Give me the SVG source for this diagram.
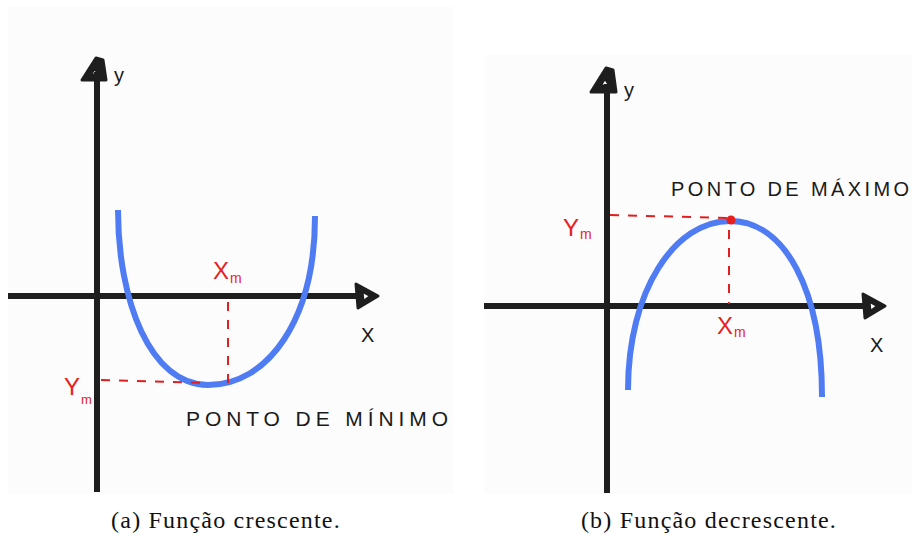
<svg xmlns="http://www.w3.org/2000/svg" width="918" height="539" viewBox="0 0 918 539">
<style>
.panel{fill:#fcfcfc}
.axis{stroke:#1e1e1e;stroke-width:6;fill:none}
.head{fill:#1e1e1e;stroke:#1e1e1e;stroke-width:3;stroke-linejoin:round}
.curve{stroke:#4f7cf2;stroke-width:6;fill:none;stroke-linecap:butt}
.dash{stroke:#e02020;stroke-width:2;stroke-dasharray:9 9;fill:none}
.hand{font-family:"Liberation Sans",Arial,sans-serif;fill:#1a1a1a}
.red{font-family:"Liberation Sans",Arial,sans-serif;fill:#e81e1e}
.cap{font-family:"Liberation Serif","Times New Roman",serif;font-size:24px;letter-spacing:1.2px;fill:#111}
</style>
<rect width="918" height="539" fill="#ffffff"/>
<g id="panel-a">
<rect class="panel" x="8" y="7" width="445" height="487"/>
<g id="axes-a">
<line class="axis" x1="97" y1="72" x2="97" y2="492"/>
<path class="head" d="M96,58 L103,60 L106,80 L82,80 Z M95,68 L90,75 L99,75 Z" fill-rule="evenodd"/>
<line class="axis" x1="8" y1="296" x2="360" y2="296"/>
<path class="head" d="M356,284 L378,296 L358,308 Z M362,291 L363,302 L371,296 Z" fill-rule="evenodd"/>
</g>
<text class="hand" x="114" y="82" font-size="20">y</text>
<text class="hand" x="361" y="342" font-size="20">X</text>
<path id="parabola-a" class="curve" d="M118,210 C118,300 150,385 208,385 C268,385 315,320 315,216"/>
<line class="dash" x1="228" y1="302" x2="228" y2="384"/>
<line class="dash" x1="101" y1="380" x2="208" y2="383"/>
<text class="red" x="213" y="279" font-size="24">X</text>
<text class="red" x="230" y="283" font-size="14">m</text>
<text class="red" x="64" y="395" font-size="24">Y</text>
<text class="red" x="81" y="404" font-size="13">m</text>
<text class="hand" x="186" y="426" font-size="21" textLength="262" lengthAdjust="spacing">PONTO DE MÍNIMO</text>
</g>
<g id="panel-b">
<rect class="panel" x="484" y="55" width="428" height="439"/>
<g id="axes-b">
<line class="axis" x1="607" y1="84" x2="607" y2="493"/>
<path class="head" d="M606,68 L613,70 L616,92 L591,92 Z M605,78 L600,86 L610,86 Z" fill-rule="evenodd"/>
<line class="axis" x1="484" y1="306" x2="868" y2="306"/>
<path class="head" d="M863,294 L885,306 L865,318 Z M869,301 L870,312 L878,306 Z" fill-rule="evenodd"/>
</g>
<text class="hand" x="624" y="97" font-size="20">y</text>
<text class="hand" x="870" y="352" font-size="20">X</text>
<path id="parabola-b" class="curve" d="M628,390 C628,290 675,221 730,221 C785,221 822,290 822,397"/>
<line class="dash" x1="610" y1="215" x2="728" y2="218"/>
<line class="dash" x1="729" y1="230" x2="729" y2="304"/>
<circle cx="731" cy="220" r="4.5" fill="#e81e1e"/>
<text class="red" x="717" y="334" font-size="24">X</text>
<text class="red" x="734" y="337" font-size="14">m</text>
<text class="red" x="563" y="236" font-size="24">Y</text>
<text class="red" x="580" y="239" font-size="14">m</text>
<text class="hand" x="671" y="196" font-size="20" textLength="238" lengthAdjust="spacing">PONTO DE MÁXIMO</text>
</g>
<g id="captions">
<text class="cap" x="226" y="528" text-anchor="middle">(a) Função crescente.</text>
<text class="cap" x="709" y="528" text-anchor="middle">(b) Função decrescente.</text>
</g>
</svg>
